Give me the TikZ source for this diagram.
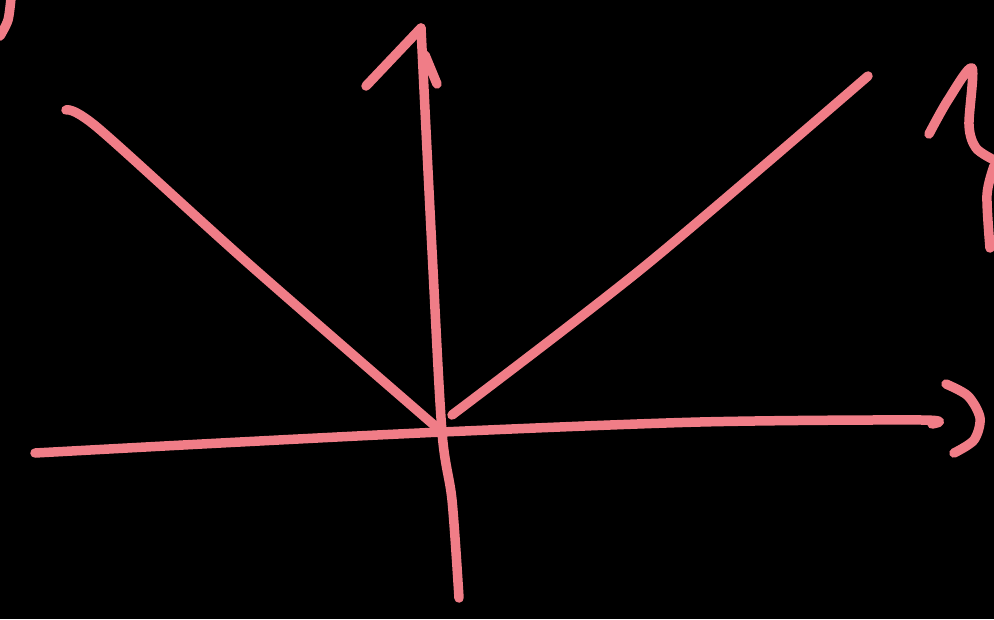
\documentclass[tikz,border=0pt]{standalone}
\usepackage{amsmath,amssymb}
\usepackage{tikz}
\definecolor{chalkpink}{RGB}{240,125,135}

\begin{document}
\begin{tikzpicture}[x=1pt,y=-1pt,
  chalk/.style={draw=chalkpink,line width=9.5pt,line cap=round,line join=round}]
\fill[black] (0,0) rectangle (994,619);
\useasboundingbox (0,0) rectangle (994,619);
\coordinate (O) at (442,432);
% axes
\draw[chalk] plot[smooth] coordinates {(35,453) (240,442) (O) (700,422) (922,420) (932,424)};
\draw[chalk] plot[smooth] coordinates {(459,598) (452,500) (O) (432,250) (421,28)};
\draw[chalk] (421,28) -- (366,86);
\draw[chalk] (425,55) -- (437,84);
% the two branches
\draw[chalk] plot[smooth] coordinates {(66,110) (98,128) (250,265) (O)};
\draw[chalk] plot[smooth] coordinates {(452,415) (645,266) (868,76)};
% partial labels at the edges
\draw[chalk] plot[smooth] coordinates {(946,384) (968,396) (980,418) (974,440) (954,453)};
\draw[chalk] plot[smooth] coordinates {(929,134) (948,100) (972,68) (969,125) (976,148) (994,160)};
\draw[chalk] plot[smooth] coordinates {(994,166) (987,195) (990,248)};
\draw[chalk] plot[smooth] coordinates {(11,-2) (8,20) (0,36)};
\end{tikzpicture}
\end{document}
